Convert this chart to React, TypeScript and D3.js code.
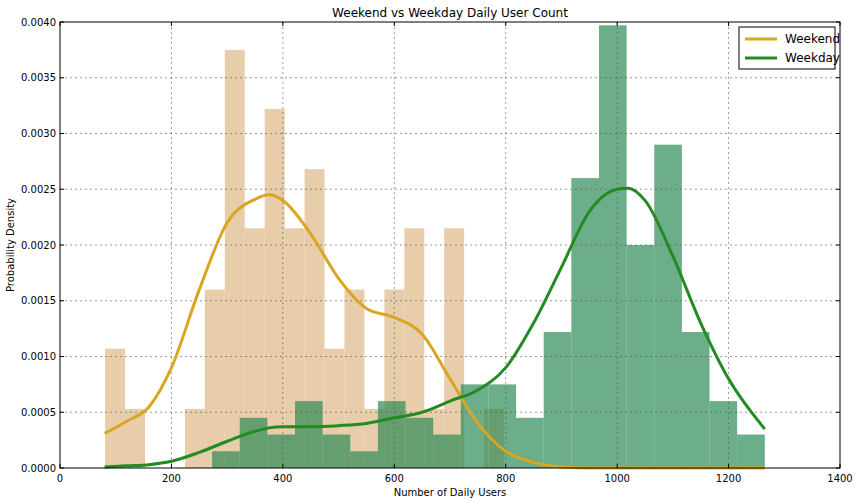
import * as d3 from 'd3'

const weekendStart = 81
const weekendBinWidth = 35.8
const weekendDensity = [0.00107, 0.00053, 0, 0, 0.00053, 0.0016, 0.00375, 0.00215, 0.00322, 0.00215,
    0.00268, 0.00107, 0.0016, 0.00053, 0.0016, 0.00215, 0.00053, 0.00215, 0, 0.00053]

const weekdayStart = 273
const weekdayBinWidth = 49.6
const weekdayDensity = [0.00015, 0.00045, 0.0003, 0.0006, 0.0003, 0.00015, 0.0006, 0.00045, 0.0003, 0.00075,
    0.00075, 0.00045, 0.00122, 0.0026, 0.00397, 0.002, 0.0029, 0.00122, 0.0006, 0.0003]

const kdeX = [80, 120, 160, 200, 250, 300, 350, 375, 400, 450, 500, 550, 600, 650, 700, 750, 800, 850, 900, 950, 1000, 1020, 1050, 1100, 1150, 1200, 1265]
const weekendKde = [0.00031, 0.00042, 0.00055, 0.0009, 0.0016, 0.0022, 0.00241, 0.00245, 0.0024, 0.0021, 0.0017, 0.00143, 0.00135, 0.0012, 0.0008, 0.0004, 0.00015, 0.00005, 0.00001, 0, 0, 0, 0, 0, 0, 0, 0]
const weekdayKde = [0.00001, 0.00002, 0.00003, 0.00006, 0.00014, 0.00024, 0.00033, 0.00036, 0.00037, 0.00037, 0.00038, 0.0004, 0.00045, 0.0005, 0.0006, 0.0007, 0.0009, 0.0013, 0.0018, 0.0023, 0.0025, 0.00251, 0.0024, 0.0019, 0.0013, 0.0008, 0.00035]

const xTicks = [0, 200, 400, 600, 800, 1000, 1200, 1400]
const yTicks = [0, 0.0005, 0.001, 0.0015, 0.002, 0.0025, 0.003, 0.0035, 0.004]

export default function App() {
    const left = 60, right = 840, top = 22, bottom = 468
    const x = d3.scaleLinear().domain([0, 1400]).range([left, right])
    const y = d3.scaleLinear().domain([0, 0.004]).range([bottom, top])

    const line = d3.line<number>()
        .x((_, i) => x(kdeX[i]))
        .curve(d3.curveMonotoneX)

    const bars = (start: number, w: number, vals: number[], color: string) =>
        vals.map((v, i) => v > 0 && (
            <rect key={i} x={x(start + i * w)} width={x(start + (i + 1) * w) - x(start + i * w)}
                y={y(v)} height={bottom - y(v)} fill={color} fillOpacity={0.7} />
        ))

    return (
        <svg width={860} height={504} style={{ position: 'absolute', left: 0, top: 0, fontFamily: 'DejaVu Sans' }}>
            <rect width={860} height={504} fill="white" />
            {bars(weekendStart, weekendBinWidth, weekendDensity, '#deb887')}
            {bars(weekdayStart, weekdayBinWidth, weekdayDensity, '#2e8b57')}
            {xTicks.slice(1, -1).map(t => (
                <line key={t} x1={x(t)} x2={x(t)} y1={top} y2={bottom} stroke="#555" strokeDasharray="2,3" strokeWidth={0.6} />
            ))}
            {yTicks.slice(1, -1).map(t => (
                <line key={t} x1={left} x2={right} y1={y(t)} y2={y(t)} stroke="#555" strokeDasharray="2,3" strokeWidth={0.6} />
            ))}
            <path d={line.y(d => y(d))(weekendKde) || ''} fill="none" stroke="#daa520" strokeWidth={3} />
            <path d={line.y(d => y(d))(weekdayKde) || ''} fill="none" stroke="#228b22" strokeWidth={3} />
            <rect x={left} y={top} width={right - left} height={bottom - top} fill="none" stroke="black" />
            {xTicks.map(t => (
                <g key={t}>
                    <line x1={x(t)} x2={x(t)} y1={bottom} y2={bottom - 4} stroke="black" />
                    <line x1={x(t)} x2={x(t)} y1={top} y2={top + 4} stroke="black" />
                    <text x={x(t)} y={bottom + 14} fontSize={10} textAnchor="middle">{t}</text>
                </g>
            ))}
            {yTicks.map(t => (
                <g key={t}>
                    <line x1={left} x2={left + 4} y1={y(t)} y2={y(t)} stroke="black" />
                    <line x1={right} x2={right - 4} y1={y(t)} y2={y(t)} stroke="black" />
                    <text x={left - 4} y={y(t) + 3.5} fontSize={10} textAnchor="end">{t.toFixed(4)}</text>
                </g>
            ))}
            <text x={(left + right) / 2} y={17} fontSize={12} textAnchor="middle">Weekend vs Weekday Daily User Count</text>
            <text x={(left + right) / 2} y={496} fontSize={10} textAnchor="middle">Number of Daily Users</text>
            <text transform={`translate(14,${(top + bottom) / 2}) rotate(-90)`} fontSize={10} textAnchor="middle">Probability Density</text>
            <g transform="translate(739,27)">
                <rect width={96} height={42} fill="white" stroke="black" />
                <line x1={6} x2={38} y1={12} y2={12} stroke="#daa520" strokeWidth={3} />
                <text x={46} y={16} fontSize={12}>Weekend</text>
                <line x1={6} x2={38} y1={31} y2={31} stroke="#228b22" strokeWidth={3} />
                <text x={46} y={35} fontSize={12}>Weekday</text>
            </g>
        </svg>
    )
}
